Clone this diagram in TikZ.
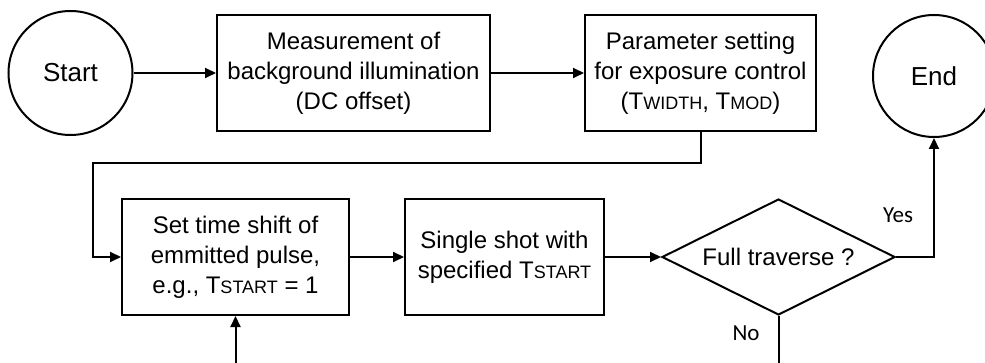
\documentclass[tikz,border=0pt]{standalone}
\usepackage{fontspec}
\setmainfont{Liberation Sans}
\newfontfamily\yesnofont{Carlito}
\usepackage{tikz}
\usetikzlibrary{shapes.geometric,arrows.meta}
% small upper case index after a T
\newcommand*{\tidx}[1]{T{\fontsize{9}{9}\selectfont #1}}

\begin{document}
\begin{tikzpicture}[x=0.5pt, y=-0.5pt, line width=1pt,
  step box/.style={draw, rectangle, minimum width=#1, minimum height=58pt, inner sep=0pt, align=center, font=\fontsize{12}{15}\selectfont},
  term/.style={draw, circle, minimum size=#1, inner sep=0pt, font=\fontsize{13}{15}\selectfont},
  decide/.style={draw, diamond, aspect=2, minimum width=116.5pt, minimum height=58pt, inner sep=0pt, font=\fontsize{12}{15}\selectfont},
  arr/.style={-{Triangle[length=5.5pt,width=5pt]}},
  answer/.style={font=\yesnofont\fontsize{11.5}{12}\selectfont}]
\useasboundingbox (0,0) rectangle (985,363);

\node [term=62pt] (start) at (70.5,73) {Start};
\node [step box=136.5pt] (measure) at (353.5,73) {Measurement of\\background illumination\\(DC offset)};
\node [step box=115.5pt] (param) at (700.5,73) {Parameter setting\\for exposure control\\(\tidx{WIDTH}, \tidx{MOD})};
\node [term=61pt] (end) at (934,76) {End};
\node [step box=113.5pt] (shift) at (235.5,257) {Set time shift of\\emmitted pulse,\\e.g., \tidx{START} = 1};
\node [step box=99.5pt] (shot) at (504.5,257) {Single shot with\\specified \tidx{START}};
\node [decide] (full) at (778.5,257) {Full traverse ?};

\coordinate (turn) at (93,163);
\coordinate (nodown) at (778.5,366);
\coordinate (loopup) at (235.5,366);

\draw [arr] (start) -- (measure);
\draw [arr] (measure) -- (param);
\draw [arr] (param.south) |- (turn) |- (shift.west);
\draw [arr] (shift) -- (shot);
\draw [arr] (shot) -- (full.west);
\draw [arr] (full.east) -| (end.south);
\draw (full.south) -- (nodown);
\draw [arr] (loopup) -- (shift.south);

\node [answer] (yes) at (898,215) {Yes};
\node [answer] (no) at (746,333) {No};
\end{tikzpicture}
\end{document}
